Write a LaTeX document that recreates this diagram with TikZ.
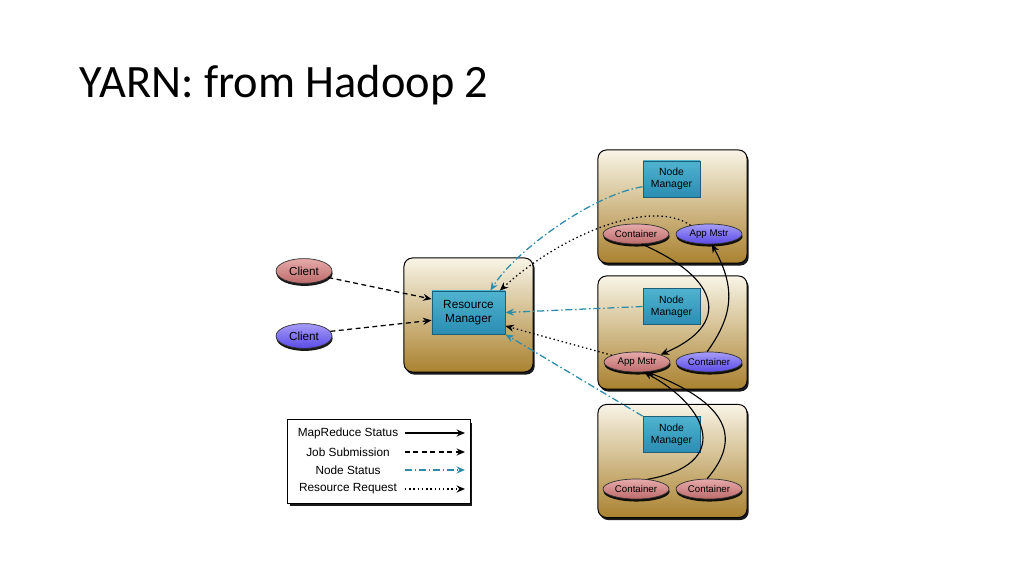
\documentclass[tikz,border=0pt]{standalone}
\usepackage{fontspec}
\setsansfont{Liberation Sans}
\newfontfamily\titlefont{Carlito}
\usepackage{tikz}
\usetikzlibrary{arrows.meta,shadows,calc,shapes.geometric}
\definecolor{GoldTop}{HTML}{F8F4E6}
\definecolor{GoldBottom}{HTML}{AA8230}
\definecolor{TealTop}{HTML}{4FB3D0}
\definecolor{TealBottom}{HTML}{2A8DB2}
\definecolor{TealEdge}{HTML}{1D5E78}
\definecolor{StatusTeal}{HTML}{2E8CAB}
\definecolor{PinkTop}{HTML}{E6AAAA}
\definecolor{PinkBottom}{HTML}{BD6B6B}
\definecolor{VioletTop}{HTML}{A59CF8}
\definecolor{VioletBottom}{HTML}{5B4BE6}

\begin{document}
\begin{tikzpicture}[x=0.025cm, y=-0.025cm, font=\sffamily,
  hostbox/.style={draw=black, line width=0.7pt, rounded corners=6pt,
    top color=GoldTop, bottom color=GoldBottom,
    minimum width=3.725cm, minimum height=2.825cm,
    drop shadow={shadow xshift=1.2pt, shadow yshift=-1.8pt, opacity=0.9, fill=black}},
  mgrbox/.style={draw=TealEdge, line width=0.6pt, top color=TealTop, bottom color=TealBottom,
    align=center, inner sep=0pt, font=\sffamily\fontsize{7.4}{8.4}\selectfont},
  oval/.style={ellipse, draw=black!80, line width=0.5pt, inner sep=0pt,
    minimum width=1.65cm, minimum height=0.5cm, font=\sffamily\fontsize{6.9}{8}\selectfont,
    drop shadow={shadow xshift=0.4pt, shadow yshift=-1.8pt, opacity=0.9, fill=black}},
  pinkoval/.style={oval, top color=PinkTop, bottom color=PinkBottom},
  violetoval/.style={oval, top color=VioletTop, bottom color=VioletBottom},
  client/.style={minimum width=1.4cm, minimum height=0.62cm, font=\sffamily\fontsize{8.3}{9}\selectfont},
  legendtext/.style={font=\sffamily\fontsize{8.4}{9}\selectfont},
  tip/.style={-{Stealth[length=6pt, width=5pt]}},
  mrstat/.style={tip, line width=0.8pt, black},
  jobsub/.style={tip, line width=0.9pt, black, dash pattern=on 3.5pt off 2.5pt},
  nodestat/.style={tip, line width=0.9pt, StatusTeal, dash pattern=on 5pt off 2pt on 1pt off 2pt},
  resreq/.style={tip, line width=0.9pt, black, dash pattern=on 1pt off 2pt}]

  \useasboundingbox (0,0) rectangle (1024,576);
  \fill[white] (0,0) rectangle (1024,576);

  \node[anchor=base west, font=\titlefont\fontsize{33}{39}\selectfont] (title) at (75,98) {YARN: from Hadoop 2};

  % hosts
  \node[hostbox, minimum width=3.225cm, minimum height=2.85cm] (rmhost) at (468.5,315) {};
  \foreach \n/\y in {1/206.5, 2/332.5, 3/461}
    \node[hostbox] (host\n) at (672.5,\y) {};

  \node[mgrbox, minimum width=1.825cm, minimum height=1.075cm,
    font=\sffamily\fontsize{8.4}{9.5}\selectfont] (rm) at (468.5,312.5) {Resource\\Manager};
  \foreach \n/\y in {1/179, 2/306.5, 3/434.5}
    \node[mgrbox, minimum width=1.425cm, minimum height=0.9cm] (nm\n) at (671.5,\y) {Node\\Manager};

  \node[pinkoval] (cn1) at (636,234) {Container};
  \node[violetoval] (am1) at (709,234) {App Mstr};
  \node[pinkoval] (am2) at (637,362) {App Mstr};
  \node[violetoval] (cn2) at (709,362) {Container};
  \node[pinkoval] (cn3) at (636,489) {Container};
  \node[pinkoval] (cn4) at (709,489) {Container};

  \node[pinkoval, client] (cl1) at (304,271) {Client};
  \node[violetoval, client] (cl2) at (304,336) {Client};

  % legend
  \node[draw=black, line width=0.7pt, fill=white, minimum width=4.55cm, minimum height=2.075cm,
    drop shadow={shadow xshift=1.2pt, shadow yshift=-1.8pt, opacity=0.9, fill=black}] (legend) at (379,461.5) {};
  \foreach \y/\txt/\sty in {433/MapReduce Status/mrstat, 452/Job Submission/jobsub,
                           470/Node Status/nodestat, 489/Resource Request/resreq} {
    \node[legendtext] (key-\y) at (348,\y) {\txt};
    \coordinate (from-\y) at (405,\y);
    \coordinate (to-\y) at (465,\y);
    \draw[\sty] (from-\y) -- (to-\y);
  }

  % job submission
  \draw[jobsub] (cl1.-15) -- (rm.160);
  \draw[jobsub] (cl2.10) -- (rm.192);

  % node status
  \draw[nodestat] (nm1.195) .. controls +(-50,8) and +(25,-40) .. (rm.45);
  \draw[nodestat] (nm2.west) -- (rm.east);
  \draw[nodestat] (nm3.north west) -- (rm.south east);

  % resource request
  \draw[resreq] (am1.155) .. controls +(-40,-28) and +(60,-55) .. (rm.35);
  \draw[resreq] (am2.165) -- (rm.-20);

  % mapreduce status
  \draw[mrstat] (cn1.-60) .. controls +(80,35) and +(70,-30) .. (am2.north east);
  \draw[mrstat] (cn2.100) .. controls +(25,-35) and +(25,45) .. (am1.-75);
  \draw[mrstat] (cn3.40) .. controls +(85,-15) and +(65,35) .. (am2.-55);
  \draw[mrstat] (cn4.100) .. controls +(30,-35) and +(90,35) .. (am2.-45);
\end{tikzpicture}
\end{document}
